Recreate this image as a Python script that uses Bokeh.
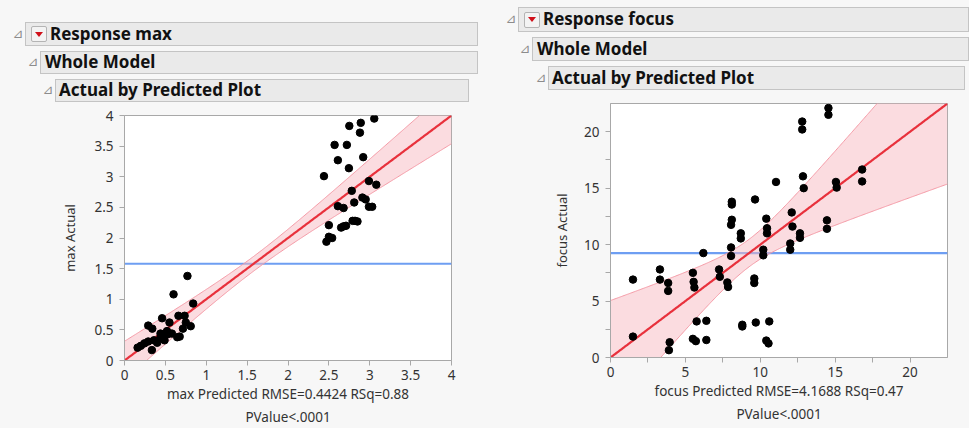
import numpy as np
from bokeh.plotting import figure
from bokeh.models import Div, Span, FixedTicker, Range1d
from bokeh.layouts import row, column
from bokeh.embed import file_html
from bokeh.resources import INLINE

# ---------------- data ----------------
max_predicted = [0.77, 0.60, 0.84, 0.46, 0.66, 0.735, 0.29, 0.55, 0.75, 0.81,
                 0.34, 0.715, 0.44, 0.52, 0.49, 0.58, 0.645, 0.675, 0.49, 0.36,
                 0.40, 0.29, 0.245, 0.20, 0.16, 0.335, 0.44, 0.53,
                 3.055, 2.89, 2.75, 2.88, 2.57, 2.72, 2.92, 2.61, 2.745, 2.44,
                 2.99, 3.08, 2.78, 2.91, 2.95, 2.81, 2.61, 2.68, 2.99, 3.03,
                 2.50, 2.65, 2.68, 2.71, 2.79, 2.82, 2.85, 2.50, 2.54, 2.47]
max_actual = [1.38, 1.08, 0.93, 0.69, 0.73, 0.73, 0.57, 0.62, 0.62, 0.56,
              0.52, 0.52, 0.44, 0.48, 0.41, 0.44, 0.38, 0.39, 0.33, 0.33,
              0.29, 0.31, 0.28, 0.24, 0.21, 0.17, 0.38, 0.43,
              3.95, 3.88, 3.83, 3.72, 3.52, 3.52, 3.32, 3.27, 3.14, 3.01,
              2.93, 2.87, 2.77, 2.66, 2.63, 2.58, 2.52, 2.49, 2.51, 2.51,
              2.21, 2.17, 2.19, 2.20, 2.28, 2.28, 2.27, 2.02, 2.00, 1.94]
max_mean_actual = 1.58
max_band_half_at_mean = 0.12
max_band_spread = 0.184
max_ticks = [0, 0.5, 1, 1.5, 2, 2.5, 3, 3.5, 4]
max_axis_max = 4
max_xlabel = "max Predicted RMSE=0.4424 RSq=0.88\nPValue<.0001"
max_ylabel = "max Actual"

focus_predicted = [1.5, 1.5, 3.3, 3.3, 3.85, 3.85, 3.95, 3.9, 5.5, 5.55,
                   5.6, 5.75, 5.5, 5.7, 6.4, 6.4, 6.2, 7.25, 7.3, 7.8,
                   7.85, 8.05, 8.05, 8.1, 8.1, 8.1, 8.05, 8.7, 8.7, 8.8,
                   8.8, 9.6, 9.6, 9.7, 9.65, 10.2, 10.2, 10.4, 10.45, 10.45,
                   10.4, 10.55, 10.6, 11.05, 12.0, 12.0, 12.1, 12.15, 12.65, 12.65,
                   12.8, 12.8, 12.85, 12.9, 14.45, 14.45, 14.55, 14.55, 15.05, 15.1,
                   16.8, 16.8]
focus_actual = [6.9, 1.85, 7.8, 6.9, 6.6, 5.9, 1.35, 0.65, 7.5, 6.7,
                6.2, 3.2, 1.65, 1.45, 3.25, 1.55, 9.25, 7.8, 7.15, 6.65,
                6.25, 9.75, 9.0, 13.8, 13.55, 12.2, 11.75, 11.0, 10.55, 2.9,
                2.75, 7.0, 6.6, 3.1, 14.0, 9.55, 9.05, 12.3, 11.45, 11.0,
                1.5, 1.25, 3.2, 15.55, 10.1, 9.55, 12.85, 11.6, 11.0, 10.6,
                20.9, 20.2, 16.05, 15.0, 12.15, 11.4, 22.1, 21.5, 15.55, 15.05,
                16.65, 15.6]
focus_mean_actual = 9.24
focus_band_half_at_mean = 1.22
focus_band_spread = 0.53
focus_ticks = [0, 5, 10, 15, 20]
focus_minor_ticks = [2.5, 7.5, 12.5, 17.5]
focus_axis_max = 22.5
focus_xlabel = "focus Predicted RMSE=4.1688 RSq=0.47\nPValue<.0001"
focus_ylabel = "focus Actual"

# ---------------- style ----------------
BG = "#f7f7f7"
FONT = "Noto Sans"
AXIS_GRAY = "#a8a8a8"
TEXT = "#333333"


def make_plot(px, ay, mean, h0, k, amax, ticks, minor, xlabel, ylabel,
              width, height, b_left, b_right, b_top, b_bottom, ylab_standoff):
    p = figure(width=width, height=height,
               x_range=Range1d(0, amax), y_range=Range1d(0, amax),
               output_backend="svg", toolbar_location=None,
               min_border_left=b_left, min_border_right=b_right,
               min_border_top=b_top, min_border_bottom=b_bottom,
               margin=(0, 0, 0, 0))
    p.background_fill_color = "white"
    p.border_fill_color = BG
    p.outline_line_color = AXIS_GRAY
    p.outline_line_width = 1
    p.xgrid.visible = False
    p.ygrid.visible = False

    xs = np.linspace(0, amax, 300)
    half = np.sqrt(h0 ** 2 + (k * (xs - mean)) ** 2)

    p.add_layout(Span(location=mean, dimension="width", line_color="#6e9ef2",
                      line_width=2.2, level="underlay"))
    p.varea(x=xs, y1=xs - half, y2=xs + half, fill_color="#f8b9c2", fill_alpha=0.5)
    p.line(xs, xs + half, line_color="#f49aa6", line_width=1)
    p.line(xs, xs - half, line_color="#f49aa6", line_width=1)
    p.line(xs, xs, line_color="#e8313c", line_width=2.2)
    p.scatter(px, ay, size=7.5, fill_color="black", line_color="black")

    for ax, lab in ((p.xaxis[0], xlabel), (p.yaxis[0], ylabel)):
        ax.ticker = FixedTicker(ticks=ticks, minor_ticks=minor)
        ax.axis_line_color = AXIS_GRAY
        ax.major_tick_line_color = AXIS_GRAY
        ax.minor_tick_line_color = AXIS_GRAY
        ax.major_tick_out = 5
        ax.major_tick_in = 0
        ax.minor_tick_out = 5 if minor else 0
        ax.minor_tick_in = 0
        ax.major_label_text_font = FONT
        ax.major_label_text_font_size = "13.5px"
        ax.major_label_text_color = TEXT
        ax.axis_label = lab
        ax.axis_label_text_font = FONT
        ax.axis_label_text_font_style = "normal"
        ax.axis_label_text_color = TEXT
    p.xaxis.major_label_standoff = 4
    p.yaxis.major_label_standoff = 6
    p.xaxis.axis_label_standoff = 2
    p.xaxis.axis_label_text_font_size = "13.5px"
    p.xaxis.axis_label_text_line_height = 1.3
    p.yaxis.axis_label_standoff = ylab_standoff
    p.yaxis.axis_label_text_font_size = "13px"
    return p


def header_block(width, height, items):
    parts = [f'<div style="position:relative;width:{width}px;height:{height}px;'
             f'background:{BG};font-family:\'{FONT}\',sans-serif;overflow:hidden;">']
    for (left, top, w, h, text, button, pad) in items:
        parts.append(
            f'<div style="position:absolute;left:{left}px;top:{top}px;width:12px;height:{h}px;'
            f'display:flex;align-items:center;justify-content:center;color:#8c8c8c;'
            f'font-family:\'DejaVu Sans\';font-size:13px;">&#8895;</div>')
        btn = ""
        if button:
            btn = ('<span style="display:inline-flex;align-items:center;justify-content:center;'
                   'width:16px;height:16px;box-sizing:border-box;border:1px solid #b4b4b4;'
                   'border-radius:2px;background:#f3f3f3;margin-right:3px;">'
                   '<span style="width:0;height:0;border-left:4px solid transparent;'
                   'border-right:4px solid transparent;border-top:5px solid #d0101a;"></span></span>')
        parts.append(
            f'<div style="position:absolute;left:{left + 13}px;top:{top}px;width:{w - 13}px;'
            f'height:{h}px;box-sizing:border-box;background:#eaeaea;border:1px solid #c4c4c4;'
            f'display:flex;align-items:center;padding-left:{pad}px;font-weight:bold;'
            f'font-size:17px;color:#111;white-space:nowrap;">{btn}{text}</div>')
    parts.append('</div>')
    return "".join(parts)


# ---------------- left panel (page x 0..480) ----------------
LW = 480
left_hdr = Div(text=header_block(LW, 102, [
    (12, 22, 466, 24, "Response max", True, 5),
    (27, 51, 451, 23, "Whole Model", False, 4),
    (42, 79, 427, 23, "Actual by Predicted Plot", False, 3),
]), width=LW, height=102, margin=(0, 0, 0, 0), styles={"background-color": BG})

p_left = make_plot(max_predicted, max_actual, max_mean_actual,
                   max_band_half_at_mean, max_band_spread, max_axis_max,
                   max_ticks, [], max_xlabel, max_ylabel,
                   width=LW, height=326, b_left=124, b_right=29, b_top=13,
                   b_bottom=67, ylab_standoff=12)

# ---------------- right panel (page x 480..969) ----------------
RW = 489
right_hdr = Div(text=header_block(RW, 90, [
    (25, 7, 464, 25, "Response focus", True, 5),
    (39, 37, 450, 24, "Whole Model", False, 4),
    (55, 66, 430, 24, "Actual by Predicted Plot", False, 3),
]), width=RW, height=90, margin=(0, 0, 0, 0), styles={"background-color": BG})

p_right = make_plot(focus_predicted, focus_actual, focus_mean_actual,
                    focus_band_half_at_mean, focus_band_spread, focus_axis_max,
                    focus_ticks, focus_minor_ticks, focus_xlabel, focus_ylabel,
                    width=RW, height=338, b_left=130, b_right=22, b_top=13,
                    b_bottom=71, ylab_standoff=10)

layout = row(column(left_hdr, p_left, spacing=0, margin=(0, 0, 0, 0),
                    styles={"background-color": BG}),
             column(right_hdr, p_right, spacing=0, margin=(0, 0, 0, 0),
                    styles={"background-color": BG}),
             spacing=0, margin=(0, 0, 0, 0), styles={"background-color": BG})

open("out.html", "w").write(file_html(layout, INLINE))
